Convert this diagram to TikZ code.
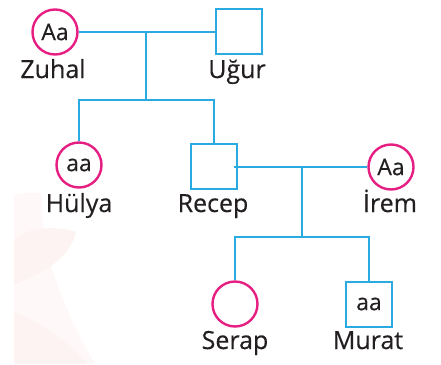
\documentclass[tikz,border=0pt]{standalone}
\usepackage{fontspec}
\setmainfont{Open Sans}[FakeBold=0.35]
\definecolor{linecyan}{RGB}{41,171,226}
\definecolor{femalepink}{RGB}{230,30,130}
\definecolor{txt}{RGB}{35,31,32}
\definecolor{wmlight}{RGB}{254,248,248}
\definecolor{wm}{RGB}{253,243,243}
\begin{document}
\begin{tikzpicture}[x=1pt,y=-1pt,
  female/.style={circle,draw=femalepink,line width=2.4pt,minimum size=45pt,inner sep=0pt,font=\fontsize{23}{23}\selectfont,text=txt},
  male/.style={rectangle,draw=linecyan,line width=2pt,minimum width=46pt,minimum height=45pt,inner sep=0pt,font=\fontsize{23}{23}\selectfont,text=txt},
  link/.style={draw=linecyan,line width=2pt},
  lbl/.style={anchor=base,font=\fontsize{25}{25}\selectfont,text=txt,inner sep=0pt}]
\useasboundingbox (0,0) rectangle (441,364);
% faint watermark
\fill[wmlight] (14,195) .. controls (25,192) and (35,192) .. (42,194) .. controls (40,260) and (70,320) .. (95,364) -- (14,364) -- cycle;
\fill[wm] (14,240) .. controls (30,226) and (58,226) .. (76,232) .. controls (70,258) and (45,272) .. (14,285) -- cycle;
\fill[wm] (14,312) .. controls (40,322) and (72,345) .. (88,364) -- (14,364) -- cycle;
% people
\node[female] (zuhal) at (55,32) {Aa};
\node[male] (ugur) at (238.5,31) {};
\node[female] (hulya) at (79,165) {aa};
\node[male] (recep) at (213.5,166) {};
\node[female] (irem) at (391,167) {Aa};
\node[female] (serap) at (235,304) {};
\node[male] (murat) at (369,304) {aa};
% names
\node[lbl] (nzuhal) at (53,78) {Zuhal};
\node[lbl] (nugur) at (237,78) {Uğur};
\node[lbl] (nhulya) at (79,212) {Hülya};
\node[lbl] (nrecep) at (213,212) {Recep};
\node[lbl] (nirem) at (390,212) {İrem};
\node[lbl] (nserap) at (235,349) {Serap};
\node[lbl] (nmurat) at (368,349) {Murat};
% junctions
\coordinate (m1) at (146,32);
\coordinate (s1) at (146,100);
\coordinate (m2) at (302,167);
\coordinate (s2) at (302,237);
% connectors
\draw[link] (zuhal.east) -- (zuhal.east -| ugur.west);
\draw[link] (m1) -- (s1);
\draw[link] (hulya.north) |- (s1) -| (recep.north);
\draw[link] ([xshift=-4pt]recep.east |- irem.west) -- (irem.west);
\draw[link] (m2) -- (s2);
\draw[link] (serap.north) |- (s2) -| (murat.north);
\end{tikzpicture}
\end{document}
